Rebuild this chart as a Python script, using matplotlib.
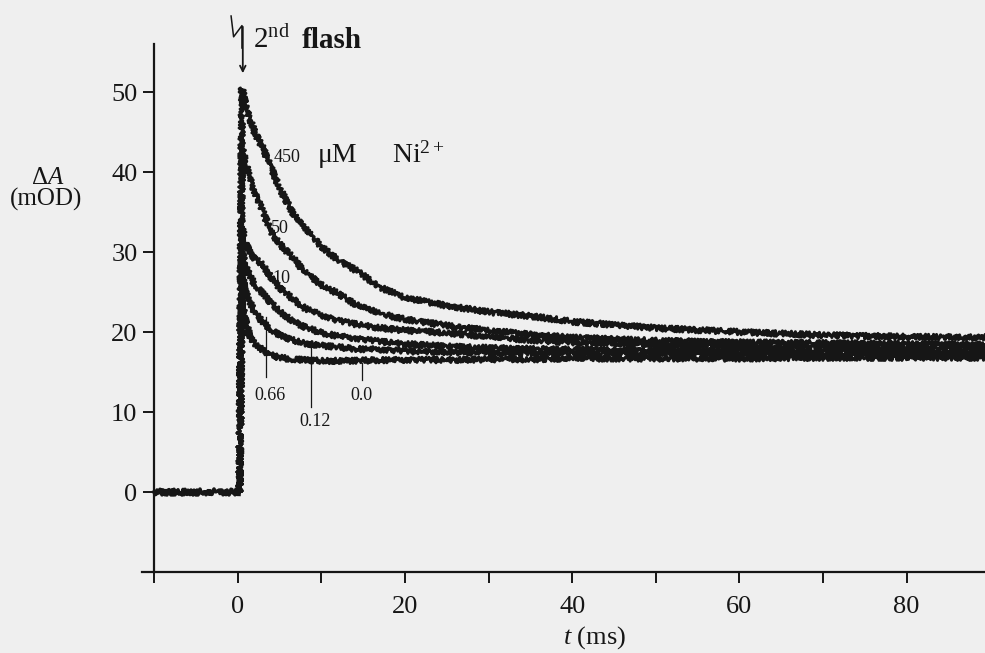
import matplotlib
matplotlib.use("Agg")
import matplotlib.pyplot as plt

plt.rcParams['font.family'] = ['Liberation Serif', 'DejaVu Serif']
plt.rcParams['mathtext.fontset'] = 'custom'
plt.rcParams['mathtext.rm'] = 'Liberation Serif'
plt.rcParams['mathtext.it'] = 'Liberation Serif:italic'

# ---- data ----
t_pre = [-10, -5, 0.2]
A_pre = [0, 0, 0]

t_decay = [0.2, 0.5, 1, 1.5, 2, 3, 4, 5, 6.5, 8, 10, 12, 14, 17, 20, 25,
           30, 35, 40, 50, 60, 70, 80, 89.4]

A_450 = [0, 50.5, 48, 46.5, 45, 43, 40.5, 38, 35, 33, 30.7, 29, 27.8, 25.6,
         24.3, 23.3, 22.5, 22, 21.3, 20.5, 20, 19.6, 19.4, 19.3]
A_50 = [0, 43, 41, 39, 37.5, 35, 32.5, 31, 29.4, 27.5, 25.9, 24.8, 23.5, 22.3,
        21.6, 20.8, 20.2, 19.7, 19.3, 18.9, 18.7, 18.6, 18.5, 18.4]
A_10 = [0, 33, 31, 29.8, 29.2, 28.4, 26.8, 25.5, 24.2, 23, 22.1, 21.4, 21,
        20.5, 20.2, 19.9, 19.4, 19, 18.7, 18.4, 18.2, 18.1, 18, 18]
A_066 = [0, 30, 28, 26.9, 26, 24.8, 23.6, 22.6, 21.4, 20.6, 19.9, 19.5, 19.2,
         18.8, 18.5, 18.2, 18, 17.9, 17.8, 17.7, 17.6, 17.6, 17.5, 17.5]
A_012 = [0, 27, 25, 23.6, 22.5, 21.2, 20.3, 19.6, 19, 18.6, 18.3, 18.1, 17.9,
         17.8, 17.6, 17.5, 17.4, 17.4, 17.3, 17.3, 17.3, 17.2, 17.2, 17.2]
A_00 = [0, 24, 21, 19.4, 18.6, 17.7, 17.1, 16.8, 16.6, 16.5, 16.4, 16.4, 16.4,
        16.5, 16.5, 16.5, 16.6, 16.6, 16.7, 16.7, 16.7, 16.8, 16.8, 16.8]

curves = [A_450, A_50, A_10, A_066, A_012, A_00]

# marker ticks under the fast traces
marker_t = [3.4, 8.7, 14.9]
marker_top = [21.9, 18.6, 16.1]
marker_bot = [14.4, 10.6, 14.0]
marker_lab = ['0.66', '0.12', '0.0']
marker_lab_t = [3.9, 9.2, 14.8]
marker_lab_A = [12.1, 8.8, 12.1]

conc_lab = ['50', '10']
conc_lab_t = [4.0, 4.2]
conc_lab_A = [32.4, 26.1]

bg = '#efefef'
ink = '#161616'

fig = plt.figure(figsize=(9.85, 6.53), dpi=100, facecolor=bg)
ax = fig.add_axes([0.1438, 0.124, 0.8563, 0.8086], facecolor=bg)

ln, = ax.plot(t_pre, A_pre, color=ink, lw=2.6)
ln.set_sketch_params(3.0, 3.0, 2.0)
for A in curves:
    ln, = ax.plot(t_decay, A, color=ink, lw=2.2)
    ln.set_sketch_params(2.8, 3.0, 2.0)

for x, top, bot in zip(marker_t, marker_top, marker_bot):
    ax.plot([x, x], [bot, top], color=ink, lw=0.9)
for s, x, y in zip(marker_lab, marker_lab_t, marker_lab_A):
    ax.text(x, y, s, fontsize=13, ha='center', va='center', color=ink)
for s, x, y in zip(conc_lab, conc_lab_t, conc_lab_A):
    ax.text(x, y, s, fontsize=13, ha='left', va='baseline', color=ink)

ax.text(4.3, 41.2, '450', fontsize=13, ha='left', va='baseline', color=ink)
ax.text(9.6, 41.2, 'μM', fontsize=20, ha='left', va='baseline', color=ink)
ax.text(18.5, 41.2, 'Ni$^{2+}$', fontsize=20, ha='left', va='baseline', color=ink)

# flash arrow and label
ax.annotate('', xy=(0.6, 52), xytext=(0.6, 58.5),
            arrowprops=dict(arrowstyle='->', color=ink, lw=1.3), annotation_clip=False)
ax.plot([-0.8, -0.5, 0.5, 0.5], [59.5, 56.9, 58.3, 55.5], color=ink, lw=1.1, clip_on=False)
ax.text(1.8, 55.5, '2$^{\\rm nd}$', fontsize=21, ha='left', va='baseline', color=ink)
ax.text(7.6, 55.5, 'flash', fontsize=21, ha='left', va='baseline',
        color=ink, fontweight='bold')

ax.set_xlim(-11.5, 89.4)
ax.set_ylim(-10, 56)

ax.spines['top'].set_visible(False)
ax.spines['right'].set_visible(False)
ax.spines['left'].set_position(('data', -10))
ax.spines['left'].set_linewidth(1.6)
ax.spines['bottom'].set_linewidth(1.6)
ax.spines['left'].set_color(ink)
ax.spines['bottom'].set_color(ink)

ax.set_xticks([0, 20, 40, 60, 80])
ax.set_xticks([-10, 10, 30, 50, 70], minor=True)
ax.set_yticks([0, 10, 20, 30, 40, 50])
ax.tick_params(axis='x', which='both', direction='out', length=8, width=1.4,
               pad=9, labelsize=19, colors=ink)
ax.tick_params(axis='y', direction='out', length=8, width=1.4, pad=4,
               labelsize=19, colors=ink)

ax.text(-0.111, 0.746, '$\\Delta A$', transform=ax.transAxes, fontsize=18,
        ha='center', va='center', color=ink)
ax.text(-0.113, 0.705, '(mOD)', transform=ax.transAxes, fontsize=18,
        ha='center', va='center', color=ink)
ax.text(42.7, -18.25, '$t$ (ms)', fontsize=19, ha='center', va='center', color=ink)

fig.savefig('out.png', dpi=100, facecolor=bg)
